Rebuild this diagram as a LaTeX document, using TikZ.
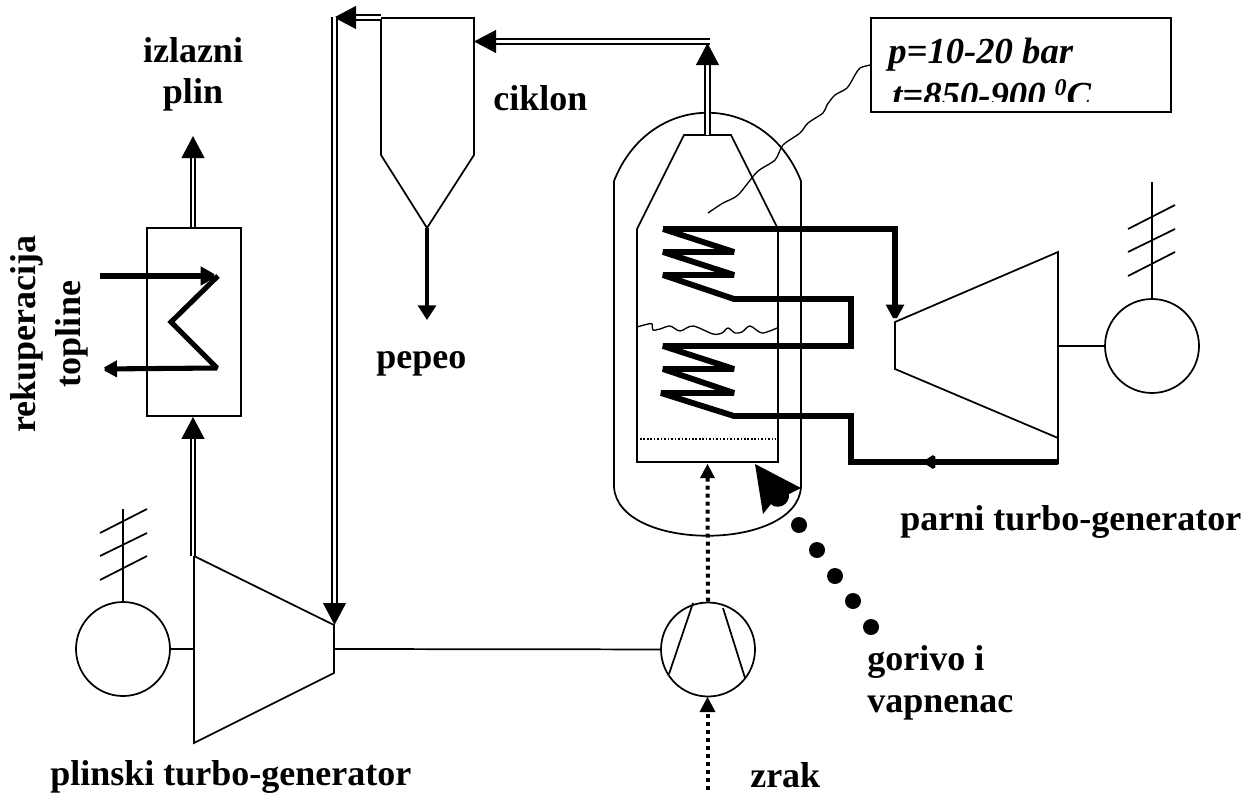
\documentclass[tikz,border=0pt]{standalone}
\usepackage{fontspec}
\setmainfont{Liberation Serif}
\usetikzlibrary{arrows.meta}
\tikzset{
  thinline/.style={line width=1.3pt},
  pipe/.style={line width=1.5pt,double,double distance=2pt},
  bigtip/.style={-{Triangle[length=16.5pt,width=17pt]}},
  coil/.style={line width=4.4pt,miter limit=2},
  hxline/.style={line width=3.8pt,miter limit=2},
  airline/.style={line width=3pt,dash pattern=on 3pt off 3pt},
  lbl/.style={font=\bfseries\fontsize{27}{31}\selectfont,inner sep=0pt,anchor=base west},
  ilbl/.style={font=\bfseries\itshape\fontsize{27.5}{31}\selectfont,inner sep=0pt,anchor=base west},
  gen/.style={circle,draw,thinline,inner sep=0pt,minimum size=70.5pt},
  dotnode/.style={circle,fill=black,inner sep=0pt,minimum size=12pt},
}
\begin{document}
\begin{tikzpicture}[x=0.75pt,y=-0.75pt]
\useasboundingbox (0,0) rectangle (1259,796);
% heat exchanger
\node[draw,thinline,inner sep=0pt,minimum width=70.5pt,minimum height=141pt] (hx) at (194,322) {};
\coordinate (hxin) at (100,276);
\coordinate (hxa) at (218,276);
\coordinate (hxb) at (171,322);
\coordinate (hxc) at (217,368);
\coordinate (hxout) at (101,369);
\draw[hxline,-{Triangle[length=13pt,width=13.5pt]}] (hxin) -- (hxa);
\draw[hxline,-{Triangle[length=12pt,width=12pt]}] (hxa) -- (hxb) -- (hxc) -- (hxout);
% gas turbine
\coordinate (gt1) at (194,556);
\coordinate (gt2) at (334,625);
\coordinate (gt3) at (334,673);
\coordinate (gt4) at (194,743);
\draw[thinline] (gt1) -- (gt2) -- (gt3) -- (gt4) -- cycle;
\coordinate (gtl) at (194,649);
\coordinate (gtr) at (334,649);
\coordinate (gtt) at (193,556);
% generators
\node[gen] (g1) at (123,649) {};
\node[gen] (g2) at (1152,346) {};
\node[gen] (comp) at (708,649.5) {};
\draw[thinline] (g1) -- (gtl);
\draw[thinline] (gtr) -- (comp);
\coordinate (a1) at (123,509);
\draw[thinline] (g1.north) -- (a1);
\draw[thinline] (100,533) -- (147,509) (100,556) -- (147,533) (100,580) -- (147,556);
\coordinate (a2) at (1152,182);
\draw[thinline] (g2.north) -- (a2);
\draw[thinline] (1128,229) -- (1175,205) (1128,252) -- (1175,229) (1128,276) -- (1175,252);
% compressor blades
\draw[thinline] (693,603) -- (669,674) (723,608) -- (745,678);
% gas pipes
\draw[pipe,bigtip] (gtt) -- (hx.south -| gtt);
\draw[pipe,bigtip] (hx.north -| gtt) -- (193,136);
% steam turbine
\coordinate (st1) at (895,322);
\coordinate (st2) at (1058,252);
\coordinate (st3) at (1058,438);
\coordinate (st4) at (895,369);
\draw[thinline] (st1) -- (st2) -- (st3) -- (st4) -- cycle;
\coordinate (str) at (1058,346);
\draw[thinline] (str) -- (g2);
% cyclone
\coordinate (c1) at (381,18);
\coordinate (c2) at (474,18);
\coordinate (c3) at (474,155);
\coordinate (c4) at (427,228);
\coordinate (c5) at (381,155);
\draw[thinline] (c1) -- (c2) -- (c3) -- (c4) -- (c5) -- cycle;
\coordinate (ash) at (427,320);
\draw[line width=2.4pt,-{Triangle[length=11pt,width=13.5pt]}] (c4) -- (ash);
% reactor vessel
\coordinate (v1) at (614,487);
\coordinate (v2) at (614,181);
\coordinate (v3) at (801,181);
\coordinate (v4) at (801,487);
\draw[thinline] (v1) -- (v2) .. controls (650,90) and (765,90) .. (v3) -- (v4)
  .. controls (797,552) and (618,552) .. (v1);
% inner chamber
\coordinate (i1) at (637,462);
\coordinate (i2) at (637,229);
\coordinate (i3) at (684,135);
\coordinate (i4) at (731,135);
\coordinate (i5) at (778,229);
\coordinate (i6) at (778,462);
\draw[thinline] (i1) -- (i2) -- (i3) -- (i4) -- (i5) -- (i6) -- cycle;
\draw[line width=1.1pt,dash pattern=on 1.2pt off 1.4pt] (640,439) -- (776,439);
\draw[line width=1pt] plot[smooth,tension=0.5] coordinates {(637,327) (648,324) (652,324) (653,330) (660,329) (670,326) (680,331) (693,326) (713,334) (722,333) (728,328) (735,333) (742,332) (750,326) (762,333) (777,328)};
% flue pipes
\coordinate (o1) at (707.5,135);
\coordinate (o3) at (710,41.5);
\draw[pipe,bigtip] (o1) -- (707.5,43);
\draw[pipe,bigtip] (o3) -- (c2 |- o3);
\draw[pipe,bigtip] (381,17.5) -- (334,17.5);
\draw[pipe,bigtip] (334.5,17) -- (334.5,625);
% steam coil
\draw[coil] (663,229) -- (734,252) -- (663,252) -- (734,275) -- (663,275) -- (734,299) -- (851,299) -- (851,346) -- (663,346) -- (734,369) -- (663,369) -- (734,393) -- (661,393) -- (734,416) -- (851,416) -- (851,462) -- (1058,462);
\draw[coil,-{Triangle[length=13pt,width=13pt]}] (663,229) -- (895,229) -- (st1);
\draw[-{Triangle[length=10pt,width=12pt]},coil] (960,462) -- (922,462);
\draw[thinline] (st3) -- (1058,464);
% air
\coordinate (airin) at (707.5,790);
\draw[airline] (airin) -- (707.5,712);
\path[fill=black] (707.5,697) -- (715.5,712) -- (699.5,712) -- cycle;
\draw[airline] (comp.north) -- (707.5,478);
\path[fill=black] (707.5,464) -- (715,478) -- (700,478) -- cycle;
% fuel
\path[fill=black] (755,464) -- (801,488) -- (789,494) .. controls (790,506) and (776,510) .. (771,504) -- (763,514) -- cycle;
\node[dotnode] (d1) at (799,525) {};
\node[dotnode] (d2) at (817,550) {};
\node[dotnode] (d3) at (835,576) {};
\node[dotnode] (d4) at (853,601) {};
\node[dotnode] (d5) at (871,627) {};
% info box
\node[draw,thinline,inner sep=0pt,minimum width=225pt,minimum height=70.5pt] (info) at (1021,65) {};
\begin{scope}
\clip (873,20) rectangle (1169,101);
\node[ilbl] (t1) at (888,63) {p=10-20 bar};
\node[ilbl] (t2) at (892,107) {t=850-900 \raisebox{9pt}{\fontsize{18}{20}\selectfont 0}C};
\end{scope}
\draw[line width=1pt] plot[smooth,tension=0.5] coordinates {(708,213) (723,203) (738,195) (757,172) (775,160) (783,145) (800,133) (808,123) (823,113) (827,105) (835,95) (847,88) (855,75) (860,68) (info.west)};
% labels
\node[lbl,anchor=base] (l1) at (193,62) {izlazni};
\node[lbl,anchor=base] (l2) at (193,103) {plin};
\node[lbl] (l3) at (493,110) {ciklon};
\node[lbl] (l4) at (376,368) {pepeo};
\node[lbl] (l5) at (900,530) {parni turbo-generator};
\node[lbl] (l6) at (867,670) {gorivo i};
\node[lbl] (l7) at (867,712) {vapnenac};
\node[lbl] (l8) at (50,785) {plinski turbo-generator};
\node[lbl] (l9) at (750,787) {zrak};
\node[lbl,anchor=base,rotate=90] (l10) at (35,334) {rekuperacija};
\node[lbl,anchor=base,rotate=90] (l11) at (80,334) {topline};
\end{tikzpicture}
\end{document}
